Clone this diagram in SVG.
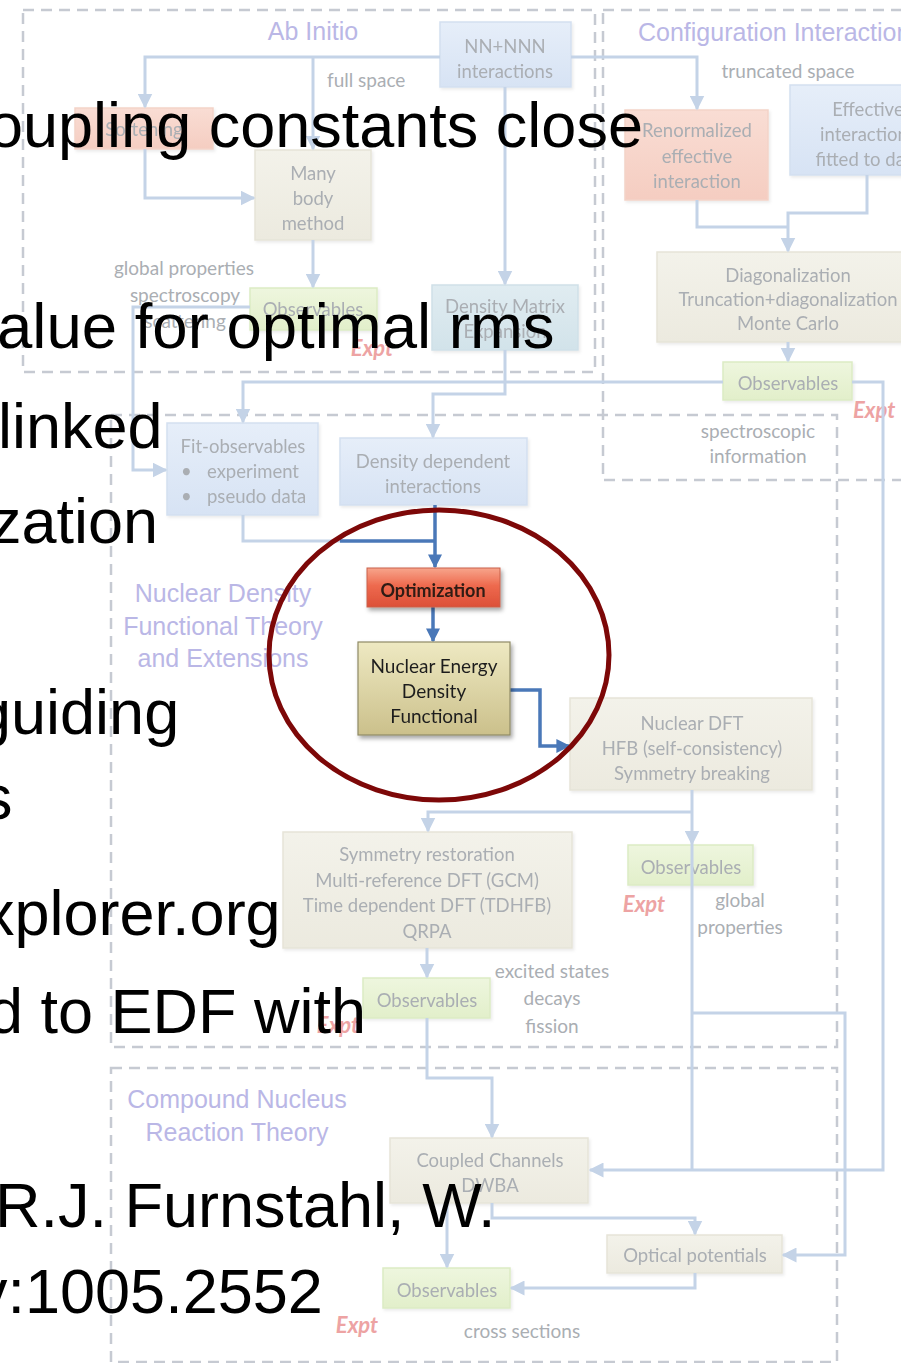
<svg xmlns="http://www.w3.org/2000/svg" width="901" height="1363" viewBox="0 0 901 1363">
<style>
  .bg{fill:#ffffff}
  .region{fill:none;stroke:#c6cad2;stroke-width:2.5;stroke-dasharray:11 7}
  .title{font-family:"Liberation Sans",Arial,sans-serif;font-size:25px;fill:#bab7e6}
  .lbl{font-family:Lato,"Noto Sans",sans-serif;font-size:19px;fill:#aaaeb3}
  .nt{font-family:Lato,"Noto Sans",sans-serif;font-size:18.5px;fill:#aaaeb3;text-anchor:middle}
  .mid{text-anchor:middle}
  .expt{font-family:Lato,"Noto Sans",sans-serif;font-size:22px;font-style:italic;font-weight:bold;fill:#eda3a3}
  .c{fill:none;stroke:#c4d3e7;stroke-width:3}
  .cd{fill:none;stroke:#4a78b8;stroke-width:3.5}
  .blue{fill:url(#gBlue);stroke:#d3dff0;stroke-width:1.5}
  .tan{fill:url(#gTan);stroke:#e6e4d8;stroke-width:1.5}
  .green{fill:url(#gGreen);stroke:#dcebc4;stroke-width:1.5}
  .pink{fill:url(#gPink);stroke:#f3d3c8;stroke-width:1.5}
  .teal{fill:url(#gTeal);stroke:#cfe0e8;stroke-width:1.5}
  .big{font-family:"Liberation Sans",Arial,sans-serif;font-size:63px;fill:#000000}
  .dark{font-family:Lato,"Noto Sans",sans-serif;fill:#1f1f1f;text-anchor:middle}
</style>
<defs>
  <linearGradient id="gBlue" x1="0" y1="0" x2="0" y2="1"><stop offset="0" stop-color="#e6eef9"/><stop offset="1" stop-color="#d7e3f4"/></linearGradient>
  <linearGradient id="gTan" x1="0" y1="0" x2="0" y2="1"><stop offset="0" stop-color="#f3f2ea"/><stop offset="1" stop-color="#eceadf"/></linearGradient>
  <linearGradient id="gGreen" x1="0" y1="0" x2="0" y2="1"><stop offset="0" stop-color="#eef6de"/><stop offset="1" stop-color="#e2efca"/></linearGradient>
  <linearGradient id="gPink" x1="0" y1="0" x2="0" y2="1"><stop offset="0" stop-color="#f9ddd4"/><stop offset="1" stop-color="#f5cdc1"/></linearGradient>
  <linearGradient id="gTeal" x1="0" y1="0" x2="0" y2="1"><stop offset="0" stop-color="#e0ecf1"/><stop offset="1" stop-color="#d2e3ea"/></linearGradient>
  <linearGradient id="gOpt" x1="0" y1="0" x2="0" y2="1"><stop offset="0" stop-color="#f7a58c"/><stop offset="0.45" stop-color="#ee6a4e"/><stop offset="1" stop-color="#dc4f38"/></linearGradient>
  <linearGradient id="gNedf" x1="0" y1="0" x2="0" y2="1"><stop offset="0" stop-color="#eee9c2"/><stop offset="1" stop-color="#cbc08b"/></linearGradient>
  <filter id="sh" x="-10%" y="-10%" width="130%" height="140%"><feDropShadow dx="2" dy="3" stdDeviation="2" flood-color="#000" flood-opacity="0.35"/></filter>
  <filter id="shf" x="-10%" y="-10%" width="130%" height="140%"><feDropShadow dx="1.5" dy="2" stdDeviation="1.5" flood-color="#000" flood-opacity="0.08"/></filter>
  <marker id="af" viewBox="0 0 10 10" refX="9" refY="5" markerWidth="15" markerHeight="15" markerUnits="userSpaceOnUse" orient="auto"><path d="M0,0 L10,5 L0,10 z" fill="#c4d3e7"/></marker>
  <marker id="ad" viewBox="0 0 10 10" refX="9" refY="5" markerWidth="14" markerHeight="14" markerUnits="userSpaceOnUse" orient="auto"><path d="M0,0 L10,5 L0,10 z" fill="#4a78b8"/></marker>
</defs>
<rect class="bg" x="0" y="0" width="901" height="1363"/>

<g id="regions">
  <rect class="region" x="23" y="10" width="572" height="362"/>
  <rect class="region" x="603" y="10" width="320" height="470"/>
  <rect class="region" x="111" y="415" width="726" height="632"/>
  <rect class="region" x="111" y="1068" width="726" height="294"/>
</g>

<g id="titles">
  <text class="title mid" x="313" y="40">Ab Initio</text>
  <text class="title" x="638" y="41">Configuration Interaction</text>
  <text class="title mid" x="223" y="602">Nuclear Density</text>
  <text class="title mid" x="223" y="635">Functional Theory</text>
  <text class="title mid" x="223" y="667">and Extensions</text>
  <text class="title mid" x="237" y="1108">Compound Nucleus</text>
  <text class="title mid" x="237" y="1141">Reaction Theory</text>
</g>

<g id="labels">
  <text class="lbl" x="327" y="87">full space</text>
  <text class="lbl mid" x="788" y="78">truncated space</text>
  <text class="lbl mid" x="184" y="275">global properties</text>
  <text class="lbl mid" x="185" y="302">spectroscopy</text>
  <text class="lbl mid" x="185" y="328">scattering</text>
  <text class="lbl mid" x="758" y="438">spectroscopic</text>
  <text class="lbl mid" x="758" y="463">information</text>
  <text class="lbl mid" x="740" y="907">global</text>
  <text class="lbl mid" x="740" y="934">properties</text>
  <text class="lbl mid" x="552" y="978">excited states</text>
  <text class="lbl mid" x="552" y="1005">decays</text>
  <text class="lbl mid" x="552" y="1033">fission</text>
  <text class="lbl mid" x="522" y="1338">cross sections</text>
  <text class="expt mid" x="372" y="356">Expt</text>
  <text class="expt" x="853" y="418">Expt</text>
  <text class="expt mid" x="644" y="912">Expt</text>
  <text class="expt mid" x="338" y="1033">Expt</text>
  <text class="expt mid" x="357" y="1333">Expt</text>
</g>

<g id="n-nn" filter="url(#shf)">
  <rect class="blue" x="440" y="22" width="131" height="65"/>
  <text class="nt" x="505" y="53">NN+NNN</text>
  <text class="nt" x="505" y="78">interactions</text>
</g>
<g id="n-softening" filter="url(#shf)">
  <rect class="pink" x="75" y="108" width="138" height="41"/>
  <text class="nt" x="144" y="136">Softening</text>
</g>
<g id="n-manybody" filter="url(#shf)">
  <rect class="tan" x="255" y="150" width="116" height="90"/>
  <text class="nt" x="313" y="180">Many</text>
  <text class="nt" x="313" y="205">body</text>
  <text class="nt" x="313" y="230">method</text>
</g>
<g id="n-obs-ab" filter="url(#shf)">
  <rect class="green" x="250" y="288" width="127" height="42"/>
  <text class="nt" x="313" y="316">Observables</text>
</g>
<g id="n-dme" filter="url(#shf)">
  <rect class="teal" x="432" y="285" width="146" height="65"/>
  <text class="nt" x="505" y="313">Density Matrix</text>
  <text class="nt" x="505" y="338">Expansion</text>
</g>
<g id="n-renorm" filter="url(#shf)">
  <rect class="pink" x="625" y="110" width="143" height="90"/>
  <text class="nt" x="697" y="137">Renormalized</text>
  <text class="nt" x="697" y="163">effective</text>
  <text class="nt" x="697" y="188">interaction</text>
</g>
<g id="n-effint" filter="url(#shf)">
  <rect class="blue" x="790" y="85" width="170" height="90"/>
  <text class="nt" x="868" y="116">Effective</text>
  <text class="nt" x="868" y="141">interactions</text>
  <text class="nt" x="868" y="166">fitted to data</text>
</g>
<g id="n-diag" filter="url(#shf)">
  <rect class="tan" x="657" y="252" width="262" height="90"/>
  <text class="nt" x="788" y="282">Diagonalization</text>
  <text class="nt" x="788" y="306">Truncation+diagonalization</text>
  <text class="nt" x="788" y="330">Monte Carlo</text>
</g>
<g id="n-obs-ci" filter="url(#shf)">
  <rect class="green" x="723" y="362" width="129" height="38"/>
  <text class="nt" x="788" y="390">Observables</text>
</g>
<g id="n-fitobs" filter="url(#shf)">
  <rect class="blue" x="167" y="423" width="151" height="92"/>
  <text class="nt" x="243" y="453">Fit-observables</text>
  <text class="lbl" x="181" y="478" style="font-size:18.5px">•</text>
  <text class="lbl" x="207" y="478" style="font-size:18.5px">experiment</text>
  <text class="lbl" x="181" y="503" style="font-size:18.5px">•</text>
  <text class="lbl" x="207" y="503" style="font-size:18.5px">pseudo data</text>
</g>
<g id="n-dd" filter="url(#shf)">
  <rect class="blue" x="340" y="438" width="187" height="67"/>
  <text class="nt" x="433" y="468">Density dependent</text>
  <text class="nt" x="433" y="493">interactions</text>
</g>
<g id="n-ndft" filter="url(#shf)">
  <rect class="tan" x="570" y="698" width="242" height="92"/>
  <text class="nt" x="692" y="730">Nuclear DFT</text>
  <text class="nt" x="692" y="755">HFB (self-consistency)</text>
  <text class="nt" x="692" y="780">Symmetry breaking</text>
</g>
<g id="n-obs-dft" filter="url(#shf)">
  <rect class="green" x="628" y="845" width="125" height="40"/>
  <text class="nt" x="691" y="874">Observables</text>
</g>
<g id="n-symrest" filter="url(#shf)">
  <rect class="tan" x="283" y="832" width="289" height="116"/>
  <text class="nt" x="427" y="861">Symmetry restoration</text>
  <text class="nt" x="427" y="887">Multi-reference DFT (GCM)</text>
  <text class="nt" x="427" y="912">Time dependent DFT (TDHFB)</text>
  <text class="nt" x="427" y="938">QRPA</text>
</g>
<g id="n-obs-ex" filter="url(#shf)">
  <rect class="green" x="363" y="978" width="127" height="40"/>
  <text class="nt" x="427" y="1007">Observables</text>
</g>
<g id="n-cc" filter="url(#shf)">
  <rect class="tan" x="390" y="1138" width="198" height="65"/>
  <text class="nt" x="490" y="1167">Coupled Channels</text>
  <text class="nt" x="490" y="1192">DWBA</text>
</g>
<g id="n-optpot" filter="url(#shf)">
  <rect class="tan" x="607" y="1235" width="175" height="38"/>
  <text class="nt" x="695" y="1262">Optical potentials</text>
</g>
<g id="n-obs-cn" filter="url(#shf)">
  <rect class="green" x="383" y="1268" width="127" height="40"/>
  <text class="nt" x="447" y="1297">Observables</text>
</g>

<g id="connectors">
  <path class="c" d="M440,57 H145 V107" marker-end="url(#af)"/>
  <path class="c" d="M313,57 V149" marker-end="url(#af)"/>
  <path class="c" d="M145,149 V198 H254" marker-end="url(#af)"/>
  <path class="c" d="M313,240 V287" marker-end="url(#af)"/>
  <path class="c" d="M250,307 H133 V470 H166" marker-end="url(#af)"/>
  <path class="c" d="M505,87 V284" marker-end="url(#af)"/>
  <path class="c" d="M505,350 V394 H433 V437" marker-end="url(#af)"/>
  <path class="c" d="M571,57 H697 V109" marker-end="url(#af)"/>
  <path class="c" d="M697,200 V227 H788"/>
  <path class="c" d="M867,175 V213 H788 V251" marker-end="url(#af)"/>
  <path class="c" d="M788,342 V361" marker-end="url(#af)"/>
  <path class="c" d="M723,382 H243 V422" marker-end="url(#af)"/>
  <path class="c" d="M852,382 H883 V1170 H590" marker-end="url(#af)"/>
  <path class="c" d="M692,790 V844" marker-end="url(#af)"/>
  <path class="c" d="M692,844 V1170"/>
  <path class="c" d="M692,812 H428 V831" marker-end="url(#af)"/>
  <path class="c" d="M427,948 V977" marker-end="url(#af)"/>
  <path class="c" d="M427,1018 V1078 H492 V1137" marker-end="url(#af)"/>
  <path class="c" d="M692,1013 H845 V1255 H783" marker-end="url(#af)"/>
  <path class="c" d="M492,1203 V1218 H695 V1234" marker-end="url(#af)"/>
  <path class="c" d="M447,1203 V1267" marker-end="url(#af)"/>
  <path class="c" d="M695,1273 V1288 H511" marker-end="url(#af)"/>
  <path class="c" d="M243,515 V541 H340"/>
  <path class="cd" d="M340,541 H435"/>
  <path class="cd" d="M435,505 V567" marker-end="url(#ad)"/>
  <path class="cd" d="M433,607 V641" marker-end="url(#ad)"/>
  <path class="cd" d="M510,690 H540 V746 H569" marker-end="url(#ad)"/>
</g>

<g id="n-opt" filter="url(#sh)">
  <rect x="367" y="568" width="133" height="39" fill="url(#gOpt)" stroke="#c9604a" stroke-width="1"/>
  <text class="dark" x="433" y="597" style="font-size:18px;font-weight:bold;fill:#2e1b12">Optimization</text>
</g>
<g id="n-nedf" filter="url(#sh)">
  <rect x="358" y="642" width="152" height="93" fill="url(#gNedf)" stroke="#8f8a66" stroke-width="1.2"/>
  <text class="dark" x="434" y="673" style="font-size:19px">Nuclear Energy</text>
  <text class="dark" x="434" y="698" style="font-size:19px">Density</text>
  <text class="dark" x="434" y="723" style="font-size:19px">Functional</text>
</g>

<ellipse id="highlight" cx="439" cy="655" rx="170" ry="145" fill="none" stroke="#7d0808" stroke-width="5"/>

<g id="overlay-text">
  <text class="big" x="-12" y="147">oupling constants close</text>
  <text class="big" x="-3" y="348" style="font-size:63.5px">alue for optimal rms</text>
  <text class="big" x="-2" y="448">linked</text>
  <text class="big" x="-10" y="543">zation</text>
  <text class="big" x="-24" y="734">guiding</text>
  <text class="big" x="-19" y="819">s</text>
  <text class="big" x="-17" y="935">xplorer.org</text>
  <text class="big" x="-12" y="1033">d to EDF with</text>
  <text class="big" x="-5" y="1227">R.J. Furnstahl, W.</text>
  <text class="big" x="-24" y="1313">v:1005.2552</text>
</g>
</svg>
